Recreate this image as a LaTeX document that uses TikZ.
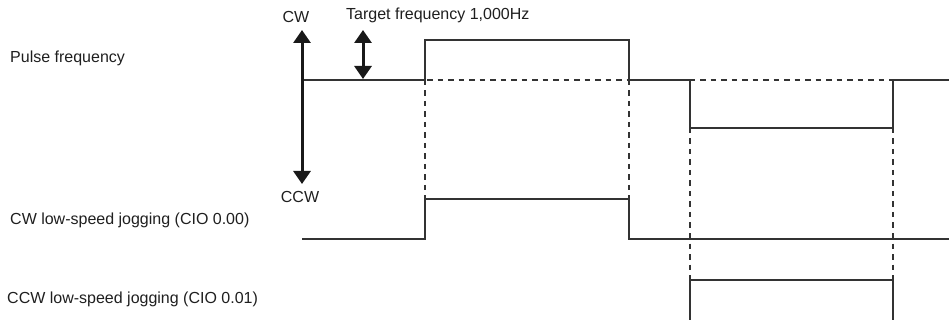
\documentclass[tikz,border=0pt]{standalone}
\usepackage{fontspec}
\setmainfont{Liberation Sans}
\usetikzlibrary{arrows.meta}
\begin{document}
\begin{tikzpicture}[x=1pt,y=-1pt,
  lbl/.style={inner sep=0pt,font=\fontsize{16}{19}\selectfont,text=black!88},
  wave/.style={draw=black!80,line width=1.3pt,line join=miter},
  guide/.style={draw=black!80,line width=1.1pt,dash pattern=on 5.5pt off 5pt},
  bigarrow/.style={draw=black!90,line width=3pt,{Triangle[width=17pt,length=13pt]}-{Triangle[width=17pt,length=13pt]}}]
\useasboundingbox (0,0) rectangle (949,320);
% labels
\node[lbl,anchor=west] (pf) at (10,58) {Pulse frequency};
\node[lbl,anchor=west] (cwj) at (10,220) {CW low-speed jogging (CIO 0.00)};
\node[lbl,anchor=west] (ccwj) at (7,299) {CCW low-speed jogging (CIO 0.01)};
\node[lbl] (cw) at (296,17) {CW};
\node[lbl] (ccw) at (300,197) {CCW};
\node[lbl,anchor=west] (tf) at (346,15) {Target frequency 1,000Hz};
% guide lines
\draw[guide] (385,80) -- (949,80);
\draw[guide] (425,80) -- (425,199);
\draw[guide] (629,80) -- (629,239);
\draw[guide] (690,128) -- (690,280);
\draw[guide] (893,128) -- (893,280);
% pulse frequency waveform
\draw[wave] (302,80) -- (425,80) -- (425,40) -- (629,40) -- (629,80) -- (690,80) -- (690,128) -- (893,128) -- (893,80) -- (949,80);
% CW jogging
\draw[wave] (302,239) -- (425,239) -- (425,199) -- (629,199) -- (629,239) -- (949,239);
% CCW jogging
\draw[wave] (690,321) -- (690,280) -- (893,280) -- (893,321);
% arrows
\coordinate (axtop) at (302,30);
\coordinate (axbot) at (302,184);
\draw[bigarrow] (axtop) -- (axbot);
\coordinate (tgtop) at (363,30);
\coordinate (tgbot) at (363,79);
\draw[bigarrow] (tgtop) -- (tgbot);
\end{tikzpicture}
\end{document}
